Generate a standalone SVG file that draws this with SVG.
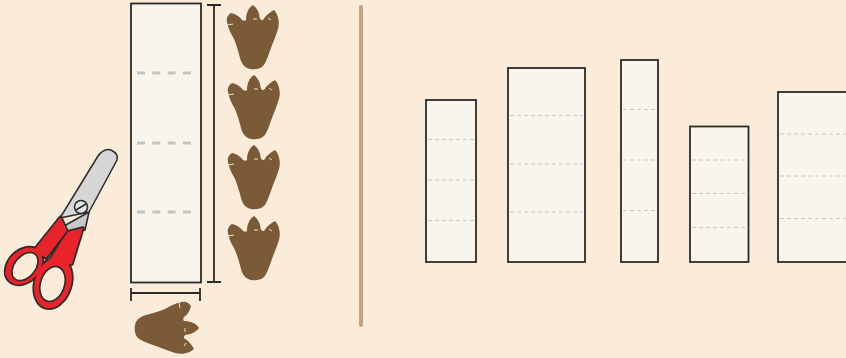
<svg xmlns="http://www.w3.org/2000/svg" width="846" height="358" viewBox="0 0 846 358">
  <style>
    .strip { fill: #f8f5ec; stroke: #2b2b2b; stroke-width: 1.8; }
    .fold-bold { stroke: #c3c3c3; stroke-width: 3; stroke-dasharray: 8 7.3; fill: none; }
    .fold { stroke: #c6c6c6; stroke-width: 1; stroke-dasharray: 4 3; fill: none; }
    .dim { stroke: #2b2b2b; stroke-width: 1.8; fill: none; }
    .foot { fill: #7b5a37; }
    .crack { stroke: #efe2cc; stroke-width: 1; fill: none; }
    .ink { stroke: #2b2b2b; stroke-width: 1.5; stroke-linejoin: round; }
    .red { fill: #e8232a; }
    .hole { fill: #faecd8; stroke: #2b2b2b; stroke-width: 1.6; }
  </style>
  <defs>
    <!-- three-toed footprint, toes pointing up, centred on the origin -->
    <g id="footprint">
      <path class="foot" d="M -22,-23 C -17,-22 -13,-19 -11,-16 C -9,-15 -8,-15 -7,-16 C -7,-22 -5,-28 0,-31 C 4,-28 6.5,-23 6.5,-19 C 7,-16 9,-16 10,-16 C 13,-21 17,-24 21,-26 C 25,-22 27,-14 25,-7 C 23,0 20,6 18,12 C 15,20 13,27 10,30 C 6,34 -2,34 -6,32 C -10,30 -12,26 -13,22 C -15,14 -17,8 -19,3 C -22,-2 -25,-8 -26,-14 C -27,-18 -25,-21 -22,-23 Z"/>
      <path class="crack" d="M -26,-11 L -20,-12 M 0,-17 L 4,-17 M 15,-18 L 18,-16"/>
    </g>
    <!-- handle silhouette: two shanks and two finger rings -->
    <g id="handles">
      <polygon points="60.5,217 67,231 46,258 34,250"/>
      <polygon points="67,232 83,228 72,264 45,268"/>
      <ellipse cx="24" cy="266" rx="21" ry="15.5" transform="rotate(-45 24 266)"/>
      <ellipse cx="53" cy="283" rx="26" ry="18" transform="rotate(-72 53 283)"/>
    </g>
  </defs>

  <rect width="846" height="358" fill="#faecd8"/>

  <!-- scissors -->
  <g id="scissors">
    <polygon points="64,226 89,212 85,230 70,234" fill="#c9c9c9" class="ink"/>
    <path d="M 60,218 L 98,156 Q 104,148 111,150 Q 119,154 117,160 L 89,212 Z" fill="#d6d6d6" class="ink"/>
    <circle cx="81" cy="207" r="6.5" fill="#e4e4e4" class="ink"/>
    <line x1="76" y1="210" x2="86" y2="204" class="ink"/>
    <use href="#handles" class="red" stroke="#2b2b2b" stroke-width="3.4" stroke-linejoin="round"/>
    <use href="#handles" class="red"/>
    <line x1="67" y1="232" x2="44" y2="263" class="ink"/>
    <ellipse cx="25" cy="266.5" rx="16" ry="10.5" transform="rotate(-50 25 266.5)" class="hole"/>
    <ellipse cx="52.5" cy="284" rx="18" ry="12" transform="rotate(-72 52.5 284)" class="hole"/>
  </g>

  <!-- measuring strip -->
  <g id="strip">
    <rect x="131" y="3.5" width="70" height="279" class="strip"/>
    <line x1="137" y1="73" x2="192" y2="73" class="fold-bold"/>
    <line x1="137" y1="143" x2="192" y2="143" class="fold-bold"/>
    <line x1="137" y1="212" x2="192" y2="212" class="fold-bold"/>
  </g>

  <!-- dimension marks -->
  <g id="dimensions">
    <path class="dim" d="M 214,5 V 282 M 207,5 H 221 M 207,282 H 221"/>
    <path class="dim" d="M 131,293 H 200 M 131,288 V 301 M 200,288 V 301"/>
  </g>

  <!-- footprints along the strip -->
  <g id="footprints">
    <use href="#footprint" transform="translate(253,36)"/>
    <use href="#footprint" transform="translate(254,106)"/>
    <use href="#footprint" transform="translate(254,176)"/>
    <use href="#footprint" transform="translate(254,247)"/>
    <use href="#footprint" transform="translate(168,328) rotate(90)"/>
  </g>

  <!-- divider -->
  <line x1="361" y1="7" x2="361" y2="325" stroke="#c6a385" stroke-width="4" stroke-linecap="round"/>

  <!-- folded strips of different lengths -->
  <g id="strip-1">
    <rect x="426" y="100" width="50" height="162" class="strip"/>
    <path class="fold" d="M 428,139.5 H 474 M 428,180 H 474 M 428,220.5 H 474"/>
  </g>
  <g id="strip-2">
    <rect x="508" y="68" width="77" height="194" class="strip"/>
    <path class="fold" d="M 510,115.5 H 583 M 510,164 H 583 M 510,212 H 583"/>
  </g>
  <g id="strip-3">
    <rect x="621" y="60" width="37" height="202" class="strip"/>
    <path class="fold" d="M 623,109.5 H 656 M 623,160 H 656 M 623,210.5 H 656"/>
  </g>
  <g id="strip-4">
    <rect x="690" y="126.5" width="58.5" height="135.5" class="strip"/>
    <path class="fold" d="M 692,160 H 747 M 692,193.5 H 747 M 692,227.5 H 747"/>
  </g>
  <g id="strip-5">
    <rect x="778" y="92" width="80" height="170" class="strip"/>
    <path class="fold" d="M 780,134 H 846 M 780,176 H 846 M 780,218.5 H 846"/>
  </g>
</svg>
